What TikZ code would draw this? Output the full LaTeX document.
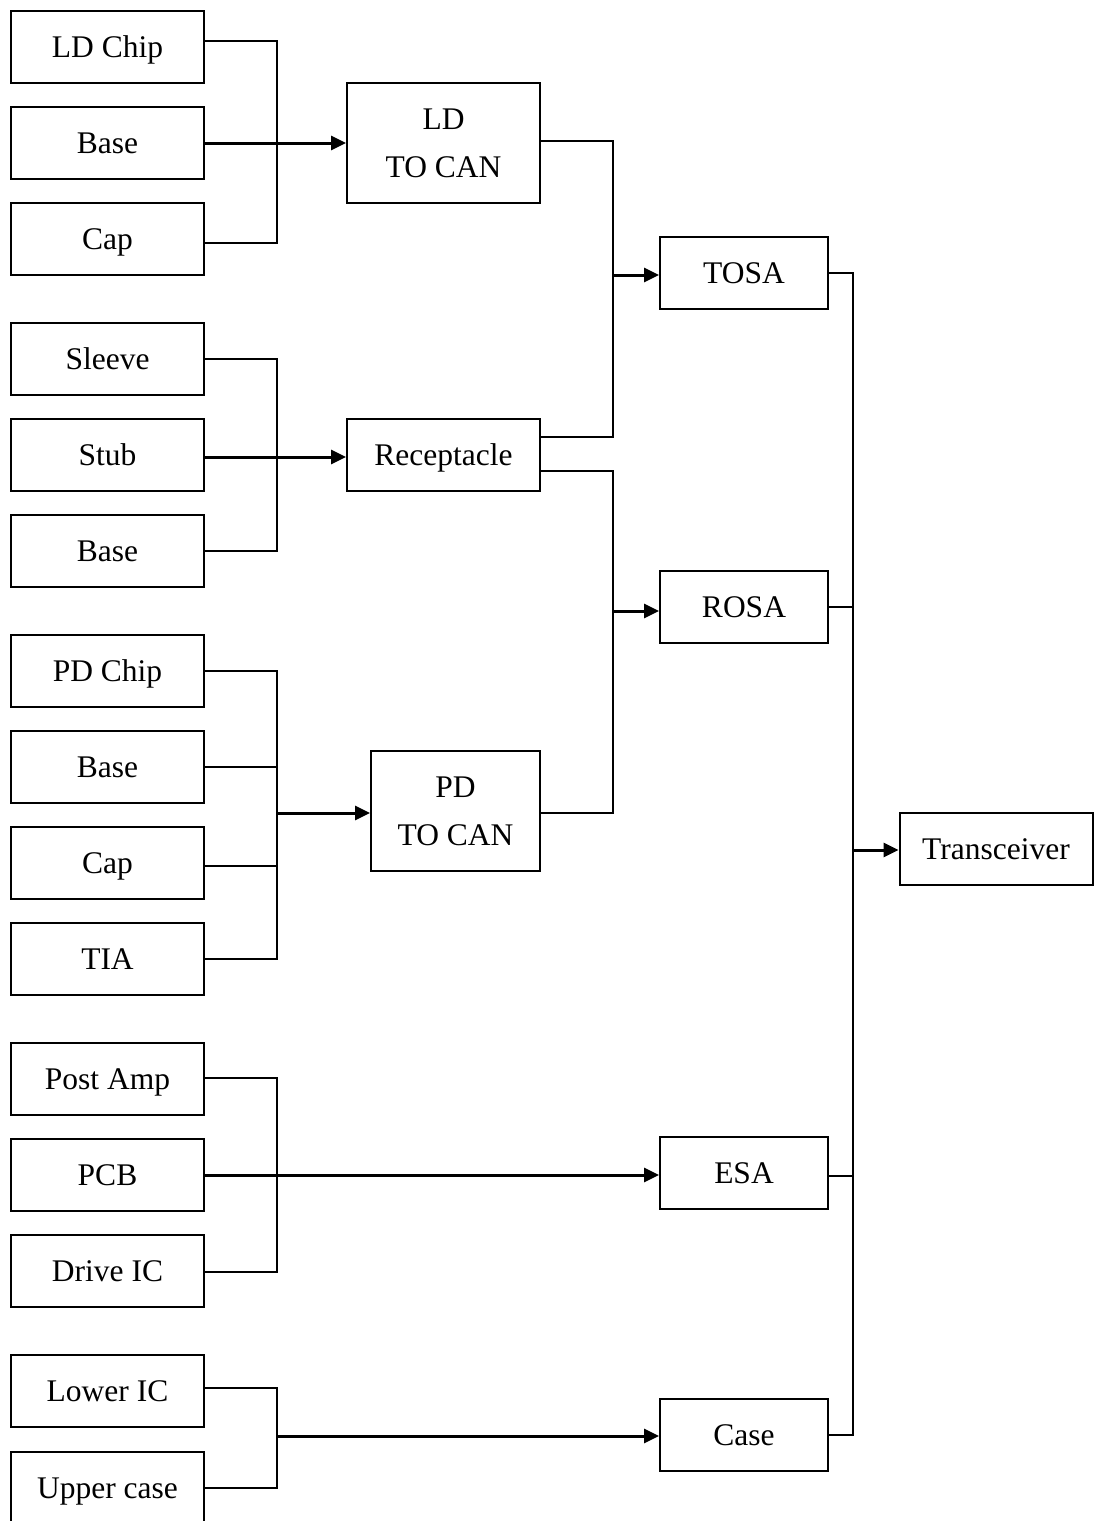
\documentclass[tikz,border=0pt]{standalone}
\usepackage{fontspec}
\setmainfont{Liberation Serif}
\usetikzlibrary{arrows.meta}
\begin{document}
\begin{tikzpicture}[x=0.5pt,y=-0.5pt,
  box/.style={draw,line width=1pt,align=center,inner sep=0pt,
    font=\fontsize{15.75}{24}\selectfont},
  part/.style={box,minimum width=96.5pt,minimum height=36pt,
    text height=12.5pt,text depth=2.5pt},
  unit/.style={part,minimum width=84pt},
  can/.style={box,minimum height=60pt},
  conn/.style={line width=1pt},
  arr/.style={line width=1.5pt,-{Triangle[length=7.5pt,width=7pt]}}]
\fill[white] (0,0) rectangle (1094,1521);
\useasboundingbox (0,0) rectangle (1094,1521);
\clip (0,0) rectangle (1094,1521);

% raw parts
\node[part] (ldchip) at (107.5,47) {LD Chip};
\node[part] (ldbase) at (107.5,143) {Base};
\node[part] (ldcap) at (107.5,239) {Cap};
\node[part] (sleeve) at (107.5,359) {Sleeve};
\node[part] (stub) at (107.5,455) {Stub};
\node[part] (rbase) at (107.5,551) {Base};
\node[part] (pdchip) at (107.5,671) {PD Chip};
\node[part] (pdbase) at (107.5,767) {Base};
\node[part] (pdcap) at (107.5,863) {Cap};
\node[part] (tia) at (107.5,959) {TIA};
\node[part] (postamp) at (107.5,1079) {Post Amp};
\node[part] (pcb) at (107.5,1175) {PCB};
\node[part] (driveic) at (107.5,1271) {Drive IC};
\node[part] (loweric) at (107.5,1391) {Lower IC};
\node[part] (uppercase) at (107.5,1488) {Upper case};

% sub-assemblies
\node[can,minimum width=96.5pt] (ldtocan) at (443.5,143) {LD\\TO CAN};
\node[part] (recept) at (443.5,455) {Receptacle};
\node[can,minimum width=84.5pt] (pdtocan) at (455.5,811) {PD\\TO CAN};

% modules
\node[unit] (tosa) at (744,273) {TOSA};
\node[unit] (rosa) at (744,607) {ROSA};
\node[unit] (esa) at (744,1173) {ESA};
\node[unit] (case) at (744,1435) {Case};
\node[part] (trx) at (996,849) {Transceiver};

% bus points
\coordinate (pdbus) at (276,813);
\coordinate (casebus) at (276,1436);
\coordinate (tosabus) at (612,275);
\coordinate (rosabus) at (612,611);
\coordinate (trxbus) at (852,850);

% LD TO CAN
\draw[conn] ([yshift=3pt]ldchip.east) -- ++(72,0) |- ([yshift=-2pt]ldcap.east);
\draw[arr] (ldbase.east) -- (ldtocan.west);

% Receptacle
\draw[conn] (sleeve.east) -- ++(72,0) |- (rbase.east);
\draw[arr] ([yshift=-1pt]stub.east) -- ([yshift=-1pt]recept.west);

% PD TO CAN
\draw[conn] (pdchip.east) -- ++(72,0) |- (tia.east);
\draw[conn] (pdbase.east) -- ++(72,0);
\draw[conn] ([yshift=-1.5pt]pdcap.east) -- ++(72,0);
\draw[arr] (pdbus) -- (pdtocan.west |- pdbus);

% ESA
\draw[conn] ([yshift=0.5pt]postamp.east) -- ++(72,0) |- ([yshift=-0.5pt]driveic.east);
\draw[arr] (pcb.east) -- (esa.west |- pcb.east);

% Case
\draw[conn] ([yshift=1.5pt]loweric.east) -- ++(72,0) |- (uppercase.east);
\draw[arr] (casebus) -- (case.west |- casebus);

% TOSA / ROSA
\draw[conn] ([yshift=1pt]ldtocan.east) -- ++(72,0) |- ([yshift=9pt]recept.east);
\draw[arr] (tosabus) -- (tosa.west |- tosabus);
\draw[conn] ([yshift=-8pt]recept.east) -- ++(72,0) |- ([yshift=-1pt]pdtocan.east);
\draw[arr] (rosabus) -- (rosa.west |- rosabus);

% Transceiver
\draw[conn] (tosa.east) -- ++(24,0) |- (case.east);
\draw[conn] (rosa.east) -- ++(24,0);
\draw[conn] ([yshift=-1.5pt]esa.east) -- ++(24,0);
\draw[arr] (trxbus) -- (trx.west |- trxbus);
\end{tikzpicture}
\end{document}
